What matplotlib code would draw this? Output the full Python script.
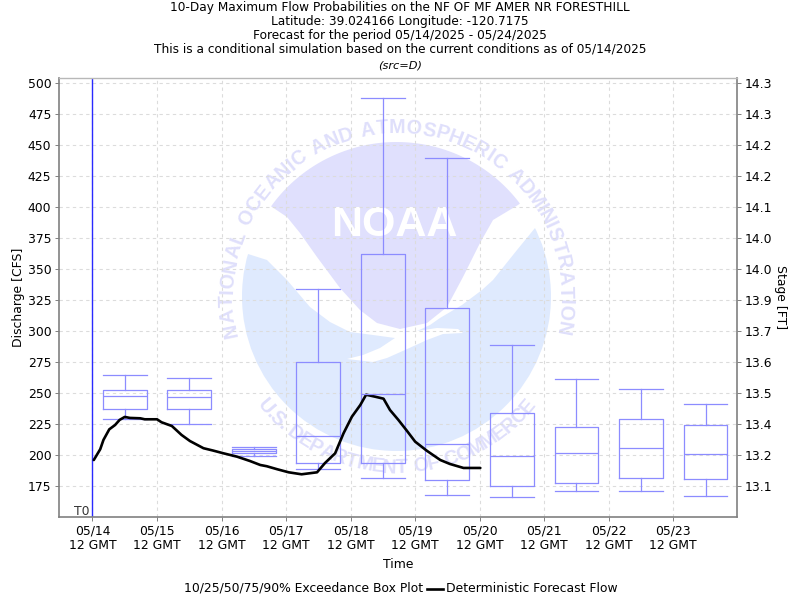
# -*- coding: utf-8 -*-
import numpy as np
import matplotlib
matplotlib.use("Agg")
import matplotlib.pyplot as plt
from matplotlib.font_manager import FontProperties
from matplotlib.lines import Line2D
from matplotlib.patches import Circle, Polygon
from matplotlib.textpath import TextPath

# --- DATA ---
title_lines = [
    "10-Day Maximum Flow Probabilities on the NF OF MF AMER NR FORESTHILL",
    "Latitude: 39.024166 Longitude: -120.7175",
    "Forecast for the period 05/14/2025 - 05/24/2025",
    "This is a conditional simulation based on the current conditions as of 05/14/2025",
]
date_labels = ["05/14", "05/15", "05/16", "05/17", "05/18", "05/19", "05/20", "05/21", "05/22", "05/23"]
date_ticks = [0, 1, 2, 3, 4, 5, 6, 7, 8, 9]

flow_ticks = [175, 200, 225, 250, 275, 300, 325, 350, 375, 400, 425, 450, 475, 500]
stage_labels = ["13.1", "13.2", "13.4", "13.5", "13.6", "13.7", "13.9",
                "14.0", "14.0", "14.1", "14.2", "14.2", "14.3", "14.3"]

# exceedance box plot, one box per day
box_days = [0.5, 1.5, 2.5, 3.5, 4.5, 5.5, 6.5, 7.5, 8.5, 9.5]
whisker_low = [229.1, 225.1, 199.3, 188.9, 181.6, 167.9, 166.3, 171.1, 171.1, 167.1]
q1 = [237.2, 237.2, 202.2, 193.7, 193.7, 180.0, 175.2, 177.6, 181.6, 180.8]
median = [247.7, 246.8, 203.6, 215.4, 249.3, 209.0, 199.3, 201.7, 205.8, 200.9]
q3 = [252.5, 252.5, 205.2, 275.0, 362.0, 318.5, 234.0, 222.7, 229.1, 224.3]
whisker_high = [264.6, 262.1, 206.6, 333.8, 487.9, 439.4, 288.7, 261.3, 253.3, 241.2]

# deterministic forecast
fcst_days = [0.02, 0.12, 0.17, 0.26, 0.35, 0.42, 0.50, 0.58, 0.74, 0.81, 1.00, 1.07, 1.23, 1.38,
             1.51, 1.72, 1.87, 2.03, 2.24, 2.44, 2.60, 2.70, 2.86, 3.04, 3.24, 3.48, 3.60, 3.76,
             3.89, 4.02, 4.15, 4.24, 4.38, 4.51, 4.61, 4.74, 4.87, 5.00, 5.18, 5.39, 5.54, 5.75, 6.01]
fcst_flow = [196.3, 205.0, 212.5, 221.0, 224.5, 228.6, 231.0, 230.2, 229.9, 229.1, 229.1, 226.7, 223.7, 216.5,
             211.6, 205.8, 203.9, 201.7, 199.0, 195.5, 192.3, 191.3, 188.9, 186.4, 184.8, 186.4, 193.7, 201.7,
             217.8, 231.2, 240.6, 248.9, 247.3, 245.7, 236.6, 228.6, 220.0, 211.1, 203.8, 196.3, 193.1, 189.9, 189.9]

# --- STYLE ---
BOX_COLOR = "#8C8CFF"
T0_COLOR = "#2A2AFF"
GRID_COLOR = "#DCDCDC"
SPINE_COLOR = "#808080"
SEAL_PURPLE = "#E0E0FD"
SEAL_BLUE = "#DFEAFE"
SEAL_TEXT = "#DFDFFB"
FS = 8.9
W, H = 800.0, 600.0


def seal_text(bg, text, radius, start_deg, end_deg, bottom=False):
    # lays one label letter by letter on a circle around the seal centre
    cx, cy = 396.5, 296.5
    prop = FontProperties(family="Liberation Sans", weight="bold")
    widths = []
    for ch in text:
        if ch == " ":
            widths.append(7.0)
        else:
            widths.append(TextPath((0, 0), ch, size=19.5, prop=prop).get_extents().width + 2.2)
    total = sum(widths)
    pos = 0.0
    for ch, w in zip(text, widths):
        frac = (pos + w / 2) / total
        ang = np.radians(start_deg + (end_deg - start_deg) * frac)
        x = cx + radius * np.cos(ang)
        y = cy - radius * np.sin(ang)
        rot = np.degrees(ang) + 90 if bottom else np.degrees(ang) - 90
        bg.text(x, y, ch, fontsize=14.2, family="Liberation Sans", weight="bold", color=SEAL_TEXT,
                rotation=rot, rotation_mode="anchor", ha="center", va="center")
        pos += w


def draw_seal(bg):
    cx, cy, r = 396.5, 296.5, 154.5
    bg.add_patch(Circle((cx, cy), r, fc=SEAL_BLUE, ec="none"))
    wave = [(235, 254), (248, 254), (267, 260), (287, 280), (310, 307), (330, 322), (350, 332), (373, 335),
            (395, 338), (380, 348), (363, 355), (347, 359), (373, 362), (387, 358), (405, 350), (427, 340),
            (443, 334), (463, 333), (458, 329), (437, 328), (417, 331), (430, 325), (440, 318), (462, 305),
            (482, 290), (493, 280), (517, 250), (535, 228), (560, 215), (560, 130), (235, 130)]
    bg.add_patch(Polygon(wave, fc="white", ec="none"))
    a0, a1 = np.arctan2(296.5 - 207, 272 - cx), np.arctan2(296.5 - 205, 518 - cx)
    arc = np.linspace(a0, a1, 60)
    top = [(cx + r * np.cos(t), cy - r * np.sin(t)) for t in arc]
    under = [(518, 205), (493, 220), (480, 243), (463, 277), (447, 307), (427, 323), (400, 329), (377, 323),
             (360, 310), (340, 288), (317, 257), (300, 233), (287, 217), (272, 207)]
    bg.add_patch(Polygon(top + under, fc=SEAL_PURPLE, ec="none"))
    bg.text(394, 225, "NOAA", fontsize=31, color="white", ha="center", va="center", weight="bold",
            family="Liberation Sans")
    seal_text(bg, "NATIONAL OCEANIC AND ATMOSPHERIC ADMINISTRATION", 169, 194, -13)
    seal_text(bg, "U.S. DEPARTMENT OF COMMERCE", 171, 218, 322, bottom=True)


def px_text(fig, x, y, s, **kw):
    kw.setdefault("fontsize", FS)
    kw.setdefault("ha", "center")
    kw.setdefault("va", "center")
    fig.text(x / W, 1 - y / H, s, **kw)


fig = plt.figure(figsize=(8, 6), dpi=100, facecolor="white")

# seal sits behind everything, in pixel coordinates
bg = fig.add_axes([0, 0, 1, 1], zorder=0)
bg.set_xlim(0, W)
bg.set_ylim(H, 0)
bg.axis("off")
draw_seal(bg)

ax = fig.add_axes([59 / W, 1 - 517 / H, (736.5 - 59) / W, (517 - 77.5) / H], zorder=1)
ax.patch.set_visible(False)
ax.set_xlim(-0.519, 9.98)
ax.set_ylim(150.4, 504.4)

ax.grid(True, color=GRID_COLOR, linestyle=(0, (3, 3)), linewidth=0.8)
ax.set_axisbelow(True)

stats = [
    {"whislo": lo, "q1": a, "med": m, "q3": b, "whishi": hi, "fliers": []}
    for lo, a, m, b, hi in zip(whisker_low, q1, median, q3, whisker_high)
]
line_kw = {"color": BOX_COLOR, "linewidth": 0.9}
ax.bxp(stats, positions=box_days, widths=0.68, capwidths=0.68, manage_ticks=False, showfliers=False,
       boxprops=line_kw, whiskerprops=line_kw, capprops=line_kw, medianprops=line_kw)

ax.axvline(0, color=T0_COLOR, linewidth=1.0)
ax.text(-0.05, 154.5, "T0", ha="right", va="center", fontsize=FS, color="#333333")
ax.plot(fcst_days, fcst_flow, color="black", linewidth=1.9, solid_capstyle="round")

ax.set_xticks(date_ticks)
ax.set_xticklabels([d + "\n12 GMT" for d in date_labels], fontsize=FS, linespacing=1.12)
ax.set_yticks(flow_ticks)
ax.set_yticklabels([str(v) for v in flow_ticks], fontsize=FS)
ax.tick_params(axis="both", length=3, width=0.7, color=SPINE_COLOR, pad=2.5)

ax2 = ax.twinx()
ax2.set_zorder(2)
ax2.set_ylim(ax.get_ylim())
ax2.set_yticks(flow_ticks)
ax2.set_yticklabels(stage_labels, fontsize=FS)
ax2.tick_params(axis="y", length=3, width=0.7, color=SPINE_COLOR, pad=3)

for side in ("left", "bottom", "right"):
    ax.spines[side].set_color(SPINE_COLOR)
    ax.spines[side].set_linewidth(1.2)
ax.spines["top"].set_color("#B8B8B8")
ax.spines["top"].set_linewidth(1.0)
for side in ("left", "bottom", "top", "right"):
    ax2.spines[side].set_visible(False)

# titles and labels
for y, line in zip([7, 21, 35.5, 49.5], title_lines):
    px_text(fig, 400, y, line, fontsize=8.7)
px_text(fig, 400, 65, "(src=D)", fontsize=8.2, style="italic")
px_text(fig, 398, 564, "Time")
px_text(fig, 19, 297, "Discharge [CFS]", rotation=90)
px_text(fig, 781, 297, "Stage [FT]", rotation=270)

# legend row
px_text(fig, 423, 588, "10/25/50/75/90% Exceedance Box Plot", ha="right", fontsize=8.9)
fig.add_artist(Line2D([427 / W, 443 / W], [1 - 589 / H, 1 - 589 / H], color="black", linewidth=1.9))
px_text(fig, 446, 588, "Deterministic Forecast Flow", ha="left", fontsize=8.95)

fig.savefig("out.png", dpi=100)
